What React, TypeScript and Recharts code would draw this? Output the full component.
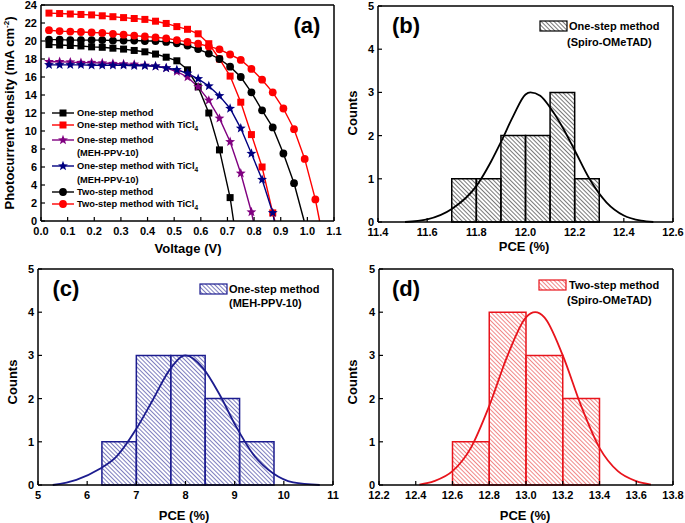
import React from 'react';
import { LineChart, Line, XAxis, YAxis, ReferenceArea } from 'recharts';

const FONT = '"Liberation Sans", Arial, Helvetica, sans-serif';

// ---------- Panel (a): J-V curves ----------
const VOLTAGE = [0.03, 0.07, 0.11, 0.15, 0.19, 0.23, 0.27, 0.31, 0.35, 0.39, 0.43, 0.47, 0.51, 0.55, 0.59, 0.63, 0.67, 0.71, 0.75, 0.79, 0.83, 0.87, 0.91, 0.95, 0.99, 1.03];
const J_ONE_STEP = [19.6, 19.55, 19.5, 19.45, 19.35, 19.3, 19.2, 19.1, 18.95, 18.8, 18.55, 18.2, 17.8, 16.8, 14.9, 12.0, 7.9, 2.6];
const VOC_ONE_STEP = 0.723;
const J_ONE_STEP_TI = [23.1, 23.05, 23.0, 22.95, 22.9, 22.8, 22.7, 22.6, 22.5, 22.4, 22.2, 21.95, 21.6, 21.3, 20.8, 19.7, 18.0, 16.1, 13.2, 9.6, 6.0, 0.9];
const VOC_ONE_STEP_TI = 0.878;
const J_MEH = [17.7, 17.7, 17.65, 17.6, 17.6, 17.55, 17.5, 17.45, 17.4, 17.3, 17.2, 17.0, 16.6, 16.0, 14.9, 13.4, 11.4, 8.8, 5.3, 1.0];
const VOC_MEH = 0.797;
const J_MEH_TI = [17.35, 17.35, 17.35, 17.35, 17.3, 17.3, 17.3, 17.3, 17.25, 17.25, 17.2, 17.0, 16.8, 16.4, 15.8, 15.0, 13.9, 12.5, 10.3, 7.5, 4.6, 0.9];
const VOC_MEH_TI = 0.876;
const J_TWO_STEP = [20.15, 20.15, 20.1, 20.1, 20.1, 20.1, 20.05, 20.05, 20.05, 20.0, 20.0, 19.9, 19.75, 19.5, 19.1, 18.6, 18.0, 17.15, 16.0, 14.3, 12.3, 10.4, 7.5, 4.2];
const VOC_TWO_STEP = 0.988;
const J_TWO_STEP_TI = [21.2, 21.1, 21.05, 21.0, 20.95, 20.9, 20.8, 20.7, 20.6, 20.5, 20.4, 20.3, 20.1, 19.9, 19.7, 19.4, 19.07, 18.5, 17.9, 16.9, 15.7, 14.3, 12.5, 10.2, 6.9, 2.4];
const VOC_TWO_STEP_TI = 1.046;

const V_TICKS = [0, 0.1, 0.2, 0.3, 0.4, 0.5, 0.6, 0.7, 0.8, 0.9, 1.0, 1.1];
const J_TICKS = [0, 2, 4, 6, 8, 10, 12, 14, 16, 18, 20, 22, 24];

// ---------- Histograms ----------
const COUNT_TICKS = [0, 1, 2, 3, 4, 5];

const B_EDGES = [11.7, 11.8, 11.9, 12.0, 12.1, 12.2, 12.3];
const B_COUNTS = [1, 1, 2, 2, 3, 1];
const B_FIT_X = [11.51, 11.6, 11.7, 11.8, 11.86, 11.9, 11.95, 12.0, 12.02, 12.06, 12.1, 12.15, 12.2, 12.26, 12.33, 12.4, 12.47, 12.52];
const B_FIT_Y = [0.0, 0.06, 0.3, 0.83, 1.4, 1.85, 2.45, 2.95, 3.0, 2.92, 2.65, 2.2, 1.66, 1.0, 0.45, 0.15, 0.03, 0.0];
const B_TICKS = [11.4, 11.6, 11.8, 12.0, 12.2, 12.4, 12.6];

const C_EDGES = [6.3, 7.0, 7.7, 8.4, 9.1, 9.8];
const C_COUNTS = [1, 3, 3, 2, 1];
const C_FIT_X = [5.3, 5.78, 6.25, 6.59, 7.0, 7.34, 7.68, 8.0, 8.36, 8.69, 9.03, 9.37, 9.78, 10.19, 10.73];
const C_FIT_Y = [0.0, 0.12, 0.37, 0.65, 1.3, 1.98, 2.67, 3.0, 2.7, 2.1, 1.35, 0.72, 0.27, 0.06, 0.0];
const C_TICKS = [5, 6, 7, 8, 9, 10, 11];

const D_EDGES = [12.6, 12.8, 13.0, 13.2, 13.4];
const D_COUNTS = [1, 4, 3, 2];
const D_FIT_X = [12.42, 12.5, 12.6, 12.7, 12.8, 12.9, 13.0, 13.05, 13.1, 13.2, 13.3, 13.4, 13.5, 13.6, 13.68];
const D_FIT_Y = [0.01, 0.09, 0.32, 0.86, 1.83, 3.0, 3.88, 4.0, 3.88, 3.0, 1.83, 0.86, 0.32, 0.09, 0.01];
const D_TICKS = [12.2, 12.4, 12.6, 12.8, 13.0, 13.2, 13.4, 13.6, 13.8];

// ---------- helpers ----------
const toSeries = (j: number[], voc: number) =>
  j.map((val, i) => ({ v: VOLTAGE[i], j: val })).concat([{ v: voc, j: 0 }]);

const starPts = (cx: number, cy: number, R: number, r: number) => {
  const pts: string[] = [];
  for (let i = 0; i < 10; i++) {
    const a = ((-90 + i * 36) * Math.PI) / 180;
    const rad = i % 2 === 0 ? R : r;
    pts.push(`${cx + rad * Math.cos(a)},${cy + rad * Math.sin(a)}`);
  }
  return pts.join(' ');
};

function Marker({ shape, color, x, y }: { shape: string; color: string; x: number; y: number }) {
  if (shape === 'square') return <rect x={x - 3.5} y={y - 3.5} width={7} height={7} fill={color} />;
  if (shape === 'circle') return <circle cx={x} cy={y} r={3.9} fill={color} />;
  return <polygon points={starPts(x, y, 5.2, 2.2)} fill={color} />;
}

const dotRenderer = (shape: string, color: string) => (props: any) => {
  const { cx, cy, payload, index } = props;
  if (!payload || payload.j === 0 || cx == null || cy == null) return <g key={`e${index}`} />;
  return (
    <g key={`d${index}`}>
      <Marker shape={shape} color={color} x={cx} y={cy} />
    </g>
  );
};

const SERIES = [
  { name: 'one', data: toSeries(J_ONE_STEP, VOC_ONE_STEP), color: '#000000', shape: 'square' },
  { name: 'oneTi', data: toSeries(J_ONE_STEP_TI, VOC_ONE_STEP_TI), color: '#ff0000', shape: 'square' },
  { name: 'meh', data: toSeries(J_MEH, VOC_MEH), color: '#800080', shape: 'star' },
  { name: 'mehTi', data: toSeries(J_MEH_TI, VOC_MEH_TI), color: '#000080', shape: 'star' },
  { name: 'two', data: toSeries(J_TWO_STEP, VOC_TWO_STEP), color: '#000000', shape: 'circle' },
  { name: 'twoTi', data: toSeries(J_TWO_STEP_TI, VOC_TWO_STEP_TI), color: '#ff0000', shape: 'circle' },
];

const tickStyle = { fontSize: 11, fontWeight: 700, fill: '#000', fontFamily: FONT };
const axisLineStyle = { stroke: '#000', strokeWidth: 1.5 };
const tickLineStyle = { stroke: '#000', strokeWidth: 1.2 };

const AXW = 30; // left axis box width
const AXH = 30; // bottom axis box height

function PanelA() {
  return (
    <div style={{ position: 'absolute', left: 0, top: 0 }}>
      <LineChart width={345} height={262} margin={{ top: 4, right: 10, bottom: 41 - AXH, left: 41 - AXW }}>
        <XAxis
          xAxisId={0}
          type="number"
          dataKey="v"
          domain={[0, 1.1]}
          ticks={V_TICKS}
          interval={0}
          tickFormatter={(v: number) => v.toFixed(1)}
          height={AXH}
          tickSize={-4}
          tickMargin={10}
          tick={tickStyle}
          axisLine={axisLineStyle}
          tickLine={tickLineStyle}
        />
        <YAxis
          yAxisId={0}
          type="number"
          domain={[0, 24]}
          ticks={J_TICKS}
          interval={0}
          width={AXW}
          tickSize={-4}
          tickMargin={8}
          tick={tickStyle}
          axisLine={axisLineStyle}
          tickLine={tickLineStyle}
        />
        <XAxis xAxisId="top" orientation="top" type="number" domain={[0, 1.1]} height={1} tick={false} tickLine={false} axisLine={axisLineStyle} />
        <YAxis yAxisId="right" orientation="right" type="number" domain={[0, 24]} width={1} tick={false} tickLine={false} axisLine={axisLineStyle} />
        {SERIES.map((s) => (
          <Line
            key={s.name}
            data={s.data}
            dataKey="j"
            type="linear"
            stroke={s.color}
            strokeWidth={1.4}
            dot={dotRenderer(s.shape, s.color)}
            activeDot={false}
            isAnimationActive={false}
          />
        ))}
      </LineChart>
    </div>
  );
}

function Hist(p: {
  left: number; top: number; width: number; height: number;
  margin: { top: number; right: number; bottom: number; left: number };
  domain: number[]; ticks: number[]; digits: number;
  edges: number[]; counts: number[]; fitX: number[]; fitY: number[];
  color: string; pattern: string;
}) {
  const fit = p.fitX.map((x, i) => ({ x, y: p.fitY[i] }));
  const m = {
    top: p.margin.top - 1,
    right: p.margin.right - 1,
    bottom: p.margin.bottom - AXH,
    left: p.margin.left - AXW,
  };
  return (
    <div style={{ position: 'absolute', left: p.left, top: p.top }}>
      <LineChart width={p.width} height={p.height} margin={m}>
        <XAxis
          xAxisId={0}
          type="number"
          dataKey="x"
          domain={p.domain}
          ticks={p.ticks}
          interval={0}
          tickFormatter={(v: number) => v.toFixed(p.digits)}
          height={AXH}
          tickSize={-4}
          tickMargin={10}
          tick={tickStyle}
          axisLine={axisLineStyle}
          tickLine={tickLineStyle}
        />
        <YAxis
          yAxisId={0}
          type="number"
          domain={[0, 5]}
          ticks={COUNT_TICKS}
          interval={0}
          width={AXW}
          tickSize={-4}
          tickMargin={8}
          tick={tickStyle}
          axisLine={axisLineStyle}
          tickLine={tickLineStyle}
        />
        <XAxis xAxisId="top" orientation="top" type="number" domain={p.domain} height={1} tick={false} tickLine={false} axisLine={axisLineStyle} />
        <YAxis yAxisId="right" orientation="right" type="number" domain={[0, 5]} width={1} tick={false} tickLine={false} axisLine={axisLineStyle} />
        {p.counts.map((c, i) => (
          <ReferenceArea
            key={i}
            x1={p.edges[i]}
            x2={p.edges[i + 1]}
            y1={0}
            y2={c}
            fill={`url(#${p.pattern})`}
            fillOpacity={1}
            stroke={p.color}
            strokeWidth={1.5}
            strokeOpacity={1}
          />
        ))}
        <Line data={fit} dataKey="y" type="monotone" stroke={p.color} strokeWidth={1.8} dot={false} activeDot={false} isAnimationActive={false} />
      </LineChart>
    </div>
  );
}

const txt = { fontFamily: FONT, fontWeight: 700, fill: '#000' } as const;

function LegendRow({ y, color, shape, children }: { y: number; color: string; shape: string; children: React.ReactNode }) {
  return (
    <g>
      <line x1={52} x2={74} y1={y} y2={y} stroke={color} strokeWidth={1.4} />
      <Marker shape={shape} color={color} x={63} y={y} />
      <text x={77} y={y + 3.3} fontSize={9.3} {...txt}>{children}</text>
    </g>
  );
}

function Overlay() {
  return (
    <svg width={685} height={523} style={{ position: 'absolute', left: 0, top: 0, pointerEvents: 'none' }}>
      <defs>
        <pattern id="hatchB" width={3} height={3} patternUnits="userSpaceOnUse" patternTransform="rotate(-45)">
          <line x1={1.5} y1={-1} x2={1.5} y2={4} stroke="#6a6a6a" strokeWidth={0.9} />
        </pattern>
        <pattern id="hatchC" width={3} height={3} patternUnits="userSpaceOnUse" patternTransform="rotate(-45)">
          <line x1={1.5} y1={-1} x2={1.5} y2={4} stroke="#6f6fb8" strokeWidth={0.9} />
        </pattern>
        <pattern id="hatchD" width={3} height={3} patternUnits="userSpaceOnUse" patternTransform="rotate(-45)">
          <line x1={1.5} y1={-1} x2={1.5} y2={4} stroke="#ef7a7a" strokeWidth={0.9} />
        </pattern>
      </defs>

      {/* Panel (a) titles */}
      <text transform="translate(14,113) rotate(-90)" textAnchor="middle" fontSize={13} {...txt}>
        Photocurrent density (mA cm<tspan dy={-5} fontSize={8}>-2</tspan><tspan dy={5}>)</tspan>
      </text>
      <text x={188} y={253} textAnchor="middle" fontSize={13} {...txt}>Voltage (V)</text>
      <text x={307} y={33} textAnchor="middle" fontSize={22} {...txt}>(a)</text>

      {/* Panel (a) legend */}
      <LegendRow y={113} color="#000000" shape="square">One-step method</LegendRow>
      <LegendRow y={125} color="#ff0000" shape="square">
        One-step method with TiCl<tspan dy={3} fontSize={6.5}>4</tspan>
      </LegendRow>
      <LegendRow y={140} color="#800080" shape="star">One-step method</LegendRow>
      <text x={77} y={156} fontSize={9.3} {...txt}>(MEH-PPV-10)</text>
      <LegendRow y={166} color="#000080" shape="star">
        One-step method with TiCl<tspan dy={3} fontSize={6.5}>4</tspan>
      </LegendRow>
      <text x={77} y={182.5} fontSize={9.3} {...txt}>(MEH-PPV-10)</text>
      <LegendRow y={192} color="#000000" shape="circle">Two-step method</LegendRow>
      <LegendRow y={204} color="#ff0000" shape="circle">
        Two-step method with TiCl<tspan dy={3} fontSize={6.5}>4</tspan>
      </LegendRow>

      {/* Panel (b) */}
      <text transform="translate(357,113) rotate(-90)" textAnchor="middle" fontSize={13} {...txt}>Counts</text>
      <text x={524} y={251} textAnchor="middle" fontSize={13} {...txt}>PCE (%)</text>
      <text x={406} y={33} textAnchor="middle" fontSize={22} {...txt}>(b)</text>
      <rect x={540} y={21} width={27} height={10} fill="url(#hatchB)" stroke="#000" strokeWidth={1.2} />
      <text x={569} y={30} fontSize={11} {...txt}>One-step method</text>
      <text x={567} y={46} fontSize={11} {...txt}>(Spiro-OMeTAD)</text>

      {/* Panel (c) */}
      <text transform="translate(17,382) rotate(-90)" textAnchor="middle" fontSize={13} {...txt}>Counts</text>
      <text x={184} y={520} textAnchor="middle" fontSize={13} {...txt}>PCE (%)</text>
      <text x={66} y={296} textAnchor="middle" fontSize={22} {...txt}>(c)</text>
      <rect x={200} y={284} width={27} height={10} fill="url(#hatchC)" stroke="#1c1c8f" strokeWidth={1.2} />
      <text x={229} y={293} fontSize={11} {...txt}>One-step method</text>
      <text x={229} y={307} fontSize={11} {...txt}>(MEH-PPV-10)</text>

      {/* Panel (d) */}
      <text transform="translate(357,382) rotate(-90)" textAnchor="middle" fontSize={13} {...txt}>Counts</text>
      <text x={525} y={520} textAnchor="middle" fontSize={13} {...txt}>PCE (%)</text>
      <text x={406} y={296} textAnchor="middle" fontSize={22} {...txt}>(d)</text>
      <rect x={539} y={280} width={27} height={10} fill="url(#hatchD)" stroke="#e8141c" strokeWidth={1.2} />
      <text x={569} y={289} fontSize={11} {...txt}>Two-step method</text>
      <text x={567} y={304} fontSize={11} {...txt}>(Spiro-OMeTAD)</text>
    </svg>
  );
}

export default function App() {
  return (
    <div style={{ position: 'absolute', left: 0, top: 0, width: 685, height: 523, background: '#fff', overflow: 'hidden' }}>
      <PanelA />
      <Hist
        left={345} top={0} width={340} height={262}
        margin={{ top: 6, right: 12, bottom: 40, left: 33 }}
        domain={[11.4, 12.6]} ticks={B_TICKS} digits={1}
        edges={B_EDGES} counts={B_COUNTS} fitX={B_FIT_X} fitY={B_FIT_Y}
        color="#000000" pattern="hatchB"
      />
      <Hist
        left={0} top={262} width={345} height={261}
        margin={{ top: 7, right: 12, bottom: 38, left: 38 }}
        domain={[5, 11]} ticks={C_TICKS} digits={0}
        edges={C_EDGES} counts={C_COUNTS} fitX={C_FIT_X} fitY={C_FIT_Y}
        color="#1c1c8f" pattern="hatchC"
      />
      <Hist
        left={345} top={262} width={340} height={261}
        margin={{ top: 7, right: 12, bottom: 38, left: 34 }}
        domain={[12.2, 13.8]} ticks={D_TICKS} digits={1}
        edges={D_EDGES} counts={D_COUNTS} fitX={D_FIT_X} fitY={D_FIT_Y}
        color="#e8141c" pattern="hatchD"
      />
      <Overlay />
    </div>
  );
}
